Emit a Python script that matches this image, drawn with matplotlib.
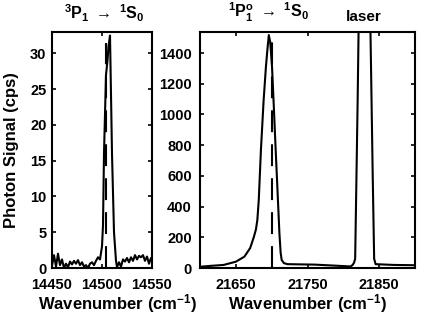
import numpy as np
import matplotlib
matplotlib.use('Agg')
import matplotlib.pyplot as plt

plt.rcParams['font.family'] = ['Liberation Sans', 'DejaVu Sans']
plt.rcParams['font.weight'] = 'bold'
plt.rcParams['mathtext.fontset'] = 'custom'
plt.rcParams['mathtext.rm'] = 'Liberation Sans:bold'
plt.rcParams['mathtext.bf'] = 'Liberation Sans:bold'
plt.rcParams['mathtext.it'] = 'Liberation Sans:bold'

# 3P1 -> 1S0 spectrum
x_left = [14450, 14452, 14454, 14456, 14458, 14460, 14462, 14464, 14466, 14468,
          14470, 14472, 14474, 14476, 14478, 14480, 14482, 14484, 14486, 14488,
          14490, 14492, 14494, 14496, 14498, 14500, 14501, 14502, 14504, 14505.5,
          14506.5, 14508, 14510, 14512, 14514, 14515, 14517, 14519, 14521, 14523,
          14525, 14527, 14529, 14531, 14533, 14535, 14537, 14539, 14541, 14543,
          14545, 14547, 14549, 14550]
y_left = [0.3, 1.8, 0.2, 2.0, 0.4, 1.2, 0.0, 0.6, 0.1, 0.9,
          0.5, 1.0, 0.6, 1.1, 0.4, 0.8, 0.2, 0.4, 0.0, 0.6,
          0.8, 0.4, 1.0, 1.5, 1.2, 3.0, 6.0, 16.0, 27.0, 29.0,
          31.0, 32.5, 16.0, 5.0, 1.0, 0.1, 0.8, 0.2, 1.2, 0.9,
          1.4, 0.8, 1.5, 1.0, 1.8, 1.2, 1.7, 1.5, 1.8, 1.0,
          1.6, 0.6, 1.4, 1.0]
line_left = 14504
line_left_top = 31.5

# 1P1 -> 1S0 spectrum and laser
x_right = [21600, 21615, 21633, 21650, 21662, 21670, 21675, 21678, 21680, 21682,
           21685, 21688.8, 21692, 21694, 21696, 21698, 21700.5, 21703, 21705.6, 21708,
           21710.8, 21712.5, 21714, 21717, 21722, 21760, 21790, 21810, 21813,
           21815, 21816.5, 21818, 21820, 21822, 21830, 21837, 21839, 21841, 21843,
           21845, 21870, 21900]
y_right = [8, 14, 20, 41, 74, 130, 200, 250, 312, 443,
           768, 1094, 1311, 1420, 1517, 1470, 1311, 1050, 768, 520,
           227, 100, 52, 32, 25, 22, 15, 10, 20,
           35, 60, 500, 1100, 1800, 3000, 1800, 1200, 600, 60,
           25, 20, 18]
line_right = 21700
line_right_top = 1500

fig = plt.figure(figsize=(4.36, 3.16), dpi=100)
ax1 = fig.add_axes([52/436, 48/316, 100/436, 236/316])
ax2 = fig.add_axes([200/436, 48/316, 215/436, 236/316])

dash = (0, (10.5, 5.8))
ax1.plot(x_left, y_left, color='k', lw=1.5)
ax1.plot([line_left, line_left], [0, line_left_top], color='k', lw=1.5, linestyle=dash)
ax2.plot(x_right, y_right, color='k', lw=1.5)
ax2.plot([line_right, line_right], [0, line_right_top], color='k', lw=1.5, linestyle=dash)

ax1.set_xlim(14450, 14550)
ax1.set_ylim(0, 33)
ax1.set_xticks([14450, 14500, 14550])
ax1.set_yticks([0, 5, 10, 15, 20, 25, 30])

ax2.set_xlim(21600, 21900)
ax2.set_ylim(0, 1537)
ax2.set_xticks([21650, 21750, 21850])
ax2.set_yticks(np.arange(0, 1401, 200))

for ax, ypad, lx in ((ax1, 4, 0.66), (ax2, 6, 0.5)):
    for s in ax.spines.values():
        s.set_linewidth(1.5)
    ax.tick_params(direction='in', top=True, right=True, length=3, width=1.2,
                   labelsize=10.5)
    ax.tick_params(axis='x', pad=7.5)
    ax.tick_params(axis='y', pad=ypad)
    for lab in ax.get_xticklabels() + ax.get_yticklabels():
        lab.set_fontweight('bold')
    ax.set_xlabel(r'Wavenumber (cm$^{-1}$)', fontsize=12, fontweight='bold', va='baseline')
    ax.xaxis.set_label_coords(lx, -0.175)

fig.text(12/436, 1 - 150/316, 'Photon Signal (cps)', rotation=90, fontsize=12,
         fontweight='bold', ha='center', va='center')

ax1.text(14502, 1.035, r'$^{3}$P$_{1}$ $\rightarrow$ $^{1}$S$_{0}$', transform=ax1.get_xaxis_transform(),
         ha='center', va='bottom', fontsize=11.5)
ax2.text(21695, 1.035, r'$^{1}$P$^{o}_{1}$ $\rightarrow$ $^{1}$S$_{0}$', transform=ax2.get_xaxis_transform(),
         ha='center', va='bottom', fontsize=11.5)
ax2.text(21828, 1.035, 'laser', transform=ax2.get_xaxis_transform(),
         ha='center', va='bottom', fontsize=11, fontweight='bold')

fig.savefig('out.png', dpi=100)
